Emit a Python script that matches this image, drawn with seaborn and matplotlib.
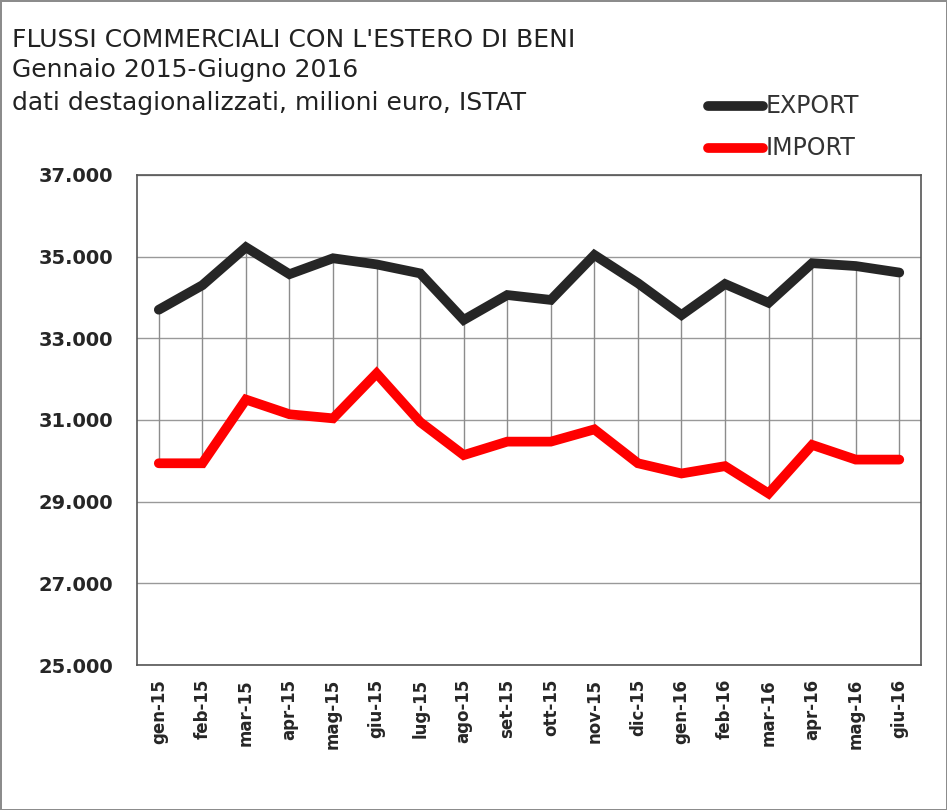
import pandas as pd
import matplotlib.pyplot as plt
import seaborn as sns

# Data
months = ["gen-15", "feb-15", "mar-15", "apr-15", "mag-15", "giu-15", "lug-15", "ago-15", "set-15",
          "ott-15", "nov-15", "dic-15", "gen-16", "feb-16", "mar-16", "apr-16", "mag-16", "giu-16"]
export_vals = [33700, 34300, 35230, 34570, 34960, 34810, 34590, 33450, 34060,
               33940, 35040, 34350, 33570, 34330, 33870, 34840, 34770, 34610]
import_vals = [29940, 29940, 31500, 31140, 31040, 32140, 30950, 30140, 30470,
               30470, 30770, 29940, 29690, 29870, 29200, 30390, 30030, 30030]
y_ticks = [25000, 27000, 29000, 31000, 33000, 35000, 37000]

df = pd.DataFrame({"idx": range(len(months)), "mese": months,
                   "EXPORT": export_vals, "IMPORT": import_vals})
long_df = df.melt(id_vars=["idx", "mese"], value_vars=["EXPORT", "IMPORT"],
                  var_name="serie", value_name="valore")

sns.set_style("white")
plt.rcParams["font.family"] = ["DejaVu Sans"]

fig = plt.figure(figsize=(9.47, 8.10), dpi=100)
fig.patch.set_edgecolor("#8c8c8c")
fig.patch.set_linewidth(2)
ax = fig.add_axes([0.1447, 0.179, 0.8279, 0.605])

# grey drop lines between the two series
ax.vlines(df["idx"], df["IMPORT"], df["EXPORT"], color="#8c8c8c", lw=1, zorder=1)

sns.lineplot(data=long_df, x="idx", y="valore", hue="serie",
             palette={"EXPORT": "#262626", "IMPORT": "#ff0000"},
             lw=7, solid_capstyle="round", solid_joinstyle="miter", ax=ax, legend=False, zorder=3)

ax.set_xlim(-0.5, len(months) - 0.5)
ax.set_ylim(25000, 37000)
ax.set_yticks(y_ticks)
ax.set_yticklabels([f"{v:,}".replace(",", ".") for v in y_ticks], fontsize=14, fontweight="bold")
ax.set_xticks(df["idx"])
ax.set_xticklabels(months, rotation=90, fontsize=12, fontweight="bold")
ax.tick_params(axis="y", length=0, pad=17)
ax.tick_params(axis="x", length=0, pad=10)
ax.yaxis.grid(True, color="#999999", lw=1)
ax.set_axisbelow(True)
ax.set_xlabel("")
ax.set_ylabel("")
for s in ax.spines.values():
    s.set_color("#555555")
    s.set_linewidth(1.2)

# title block
fig.text(0.013, 0.951, "FLUSSI COMMERCIALI CON L'ESTERO DI BENI", fontsize=18, va="center", color="#222222")
fig.text(0.013, 0.913, "Gennaio 2015-Giugno 2016", fontsize=18, va="center", color="#222222")
fig.text(0.013, 0.873, "dati destagionalizzati, milioni euro, ISTAT", fontsize=18, va="center", color="#222222")

# legend
for label, color, yy in [("EXPORT", "#262626", 0.869), ("IMPORT", "#ff0000", 0.817)]:
    fig.add_artist(plt.Line2D([0.748, 0.806], [yy, yy], color=color, lw=7,
                              solid_capstyle="round", transform=fig.transFigure))
    fig.text(0.809, yy, label, fontsize=17, va="center", color="#333333")

fig.savefig("out.png", dpi=100, edgecolor=fig.get_edgecolor())
